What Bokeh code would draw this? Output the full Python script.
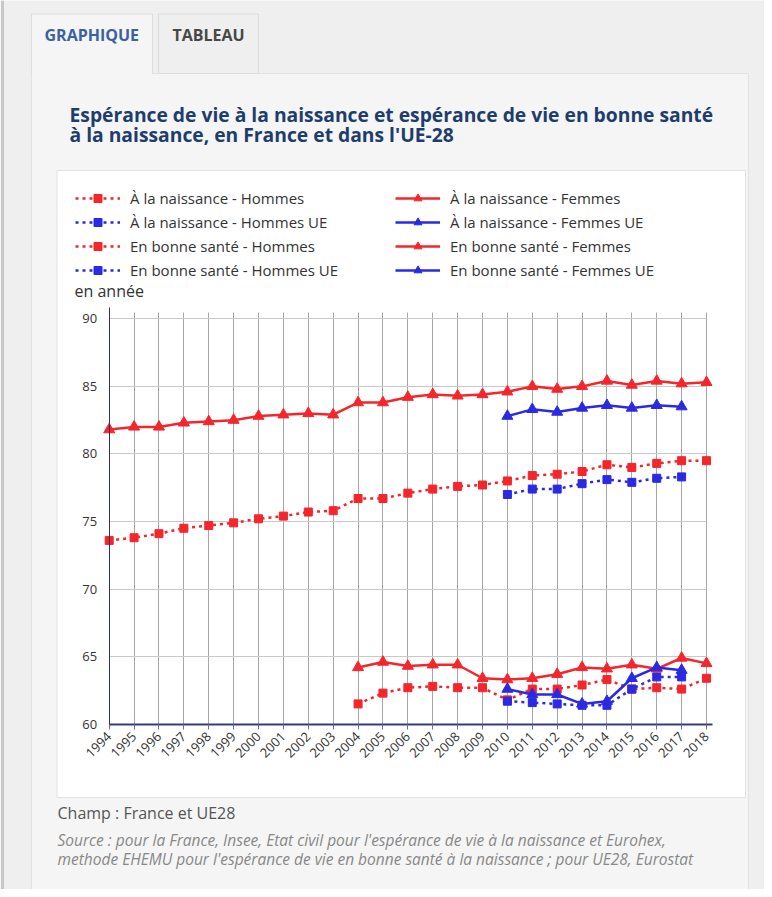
import numpy as np
from math import pi
from bokeh.plotting import figure
from bokeh.models import Range1d, LinearAxis, FixedTicker, Grid, Legend, LegendItem
from bokeh.core.properties import value
from bokeh.embed import file_html
from bokeh.resources import INLINE

# ---------------- data ----------------
years = list(range(1994, 2019))
y_ticks = [60, 65, 70, 75, 80, 85, 90]
N = None

naiss_hommes = [73.6, 73.8, 74.1, 74.5, 74.7, 74.9, 75.2, 75.4, 75.7, 75.8, 76.7, 76.7, 77.1,
                77.4, 77.6, 77.7, 78.0, 78.4, 78.5, 78.7, 79.2, 79.0, 79.3, 79.5, 79.5]
naiss_hommes_ue = [N] * 16 + [77.0, 77.4, 77.4, 77.8, 78.1, 77.9, 78.2, 78.3, N]
bs_hommes = [N] * 10 + [61.5, 62.3, 62.7, 62.8, 62.7, 62.7, 61.8, 62.6, 62.6, 62.9, 63.3,
                        62.6, 62.7, 62.6, 63.4]
bs_hommes_ue = [N] * 16 + [61.7, 61.6, 61.5, 61.4, 61.4, 62.6, 63.5, 63.5, N]
naiss_femmes = [81.8, 82.0, 82.0, 82.3, 82.4, 82.5, 82.8, 82.9, 83.0, 82.9, 83.8, 83.8, 84.2,
                84.4, 84.3, 84.4, 84.6, 85.0, 84.8, 85.0, 85.4, 85.1, 85.4, 85.2, 85.3]
naiss_femmes_ue = [N] * 16 + [82.8, 83.3, 83.1, 83.4, 83.6, 83.4, 83.6, 83.5, N]
bs_femmes = [N] * 10 + [64.2, 64.6, 64.3, 64.4, 64.4, 63.4, 63.3, 63.4, 63.7, 64.2, 64.1,
                        64.4, 64.1, 64.9, 64.5]
bs_femmes_ue = [N] * 16 + [62.6, 62.2, 62.2, 61.5, 61.7, 63.4, 64.2, 64.0, N]

labels_hommes = ["À la naissance - Hommes", "À la naissance - Hommes UE",
                 "En bonne santé - Hommes", "En bonne santé - Hommes UE"]
labels_femmes = ["À la naissance - Femmes", "À la naissance - Femmes UE",
                 "En bonne santé - Femmes", "En bonne santé - Femmes UE"]

# ---------------- styles / layout ----------------
RED = "#f4262c"
BLUE = "#2a2ae2"
FONT_NAME = "Open Sans"
FONT = value(FONT_NAME)
W, H = 764, 889
PX_L, PX_R = 108.7, 706.0      # pixel x of first / last year
PX_B, PX_T = 723.7, 318.3      # pixel y of lowest / highest tick

p = figure(width=W, height=H, x_range=Range1d(0, W), y_range=Range1d(H, 0),
           x_axis_type=None, y_axis_type=None, toolbar_location=None,
           output_backend="svg", min_border=0, outline_line_color=None,
           background_fill_color="#efefef", border_fill_color="#efefef")

sx = (PX_R - PX_L) / (years[-1] - years[0])
sy = (PX_B - PX_T) / (y_ticks[-1] - y_ticks[0])
p.extra_x_ranges = {"yr": Range1d(years[0] - PX_L / sx, years[-1] + (W - PX_R) / sx)}
p.extra_y_ranges = {"val": Range1d(y_ticks[0] - (H - PX_B) / sy, y_ticks[-1] + PX_T / sy)}

# ---------------- page decoration ----------------
p.multi_line(xs=[[2, 2]], ys=[[0, H]], line_color="#c8c8c8", line_width=3, level="image")
p.quad(left=[31], right=[748], top=[73], bottom=[920], fill_color="#f5f5f5",
       line_color="#e2e2e2", level="image")
p.quad(left=[158], right=[258], top=[13.5], bottom=[73], fill_color="#efefef",
       line_color="#dcdcdc", level="image")
p.quad(left=[31], right=[152], top=[13.5], bottom=[74], fill_color="#f5f5f5",
       line_color=None, level="image")
p.multi_line(xs=[[31, 31, 152, 152]], ys=[[74, 13.5, 13.5, 73]], line_color="#dcdcdc",
             level="image")
p.quad(left=[56.5], right=[745], top=[170], bottom=[797], fill_color="white",
       line_color="#e0e0e0", level="image")

p.text(x=[44], y=[45.5], text=["GRAPHIQUE"], text_font=FONT, text_font_size="16px",
       text_font_style="bold", text_color="#3c61a0")
p.text(x=[172], y=[45.5], text=["TABLEAU"], text_font=FONT, text_font_size="16px",
       text_font_style="bold", text_color="#474747")
p.text(x=[69, 69], y=[127, 147.5],
       text=["Espérance de vie à la naissance et espérance de vie en bonne santé",
             "à la naissance, en France et dans l'UE-28"],
       text_font=FONT, text_font_size="19.3px", text_font_style="bold", text_color="#1d3e6d")
p.text(x=[74], y=[301], text=["en année"], text_font=FONT, text_font_size="16px",
       text_color="#333333")
p.text(x=[57], y=[823], text=["Champ : France et UE28"], text_font=FONT,
       text_font_size="16px", text_color="#555555")
p.text(x=[57, 57], y=[850, 869],
       text=["Source : pour la France, Insee, Etat civil pour l'espérance de vie à la naissance et Eurohex,",
             "methode EHEMU pour l'espérance de vie en bonne santé à la naissance ; pour UE28, Eurostat"],
       text_font=FONT, text_font_size="15.5px", text_font_style="italic", text_color="#888888")

# ---------------- grids & axes ----------------
vgrid = Grid(dimension=0, ticker=FixedTicker(ticks=years), x_range_name="yr", y_range_name="val",
             cross_bounds=(y_ticks[0], y_ticks[-1] + 0.45), grid_line_color="#a6a6a6")
hgrid = Grid(dimension=1, ticker=FixedTicker(ticks=y_ticks), x_range_name="yr", y_range_name="val",
             cross_bounds=(years[0], years[-1]), grid_line_color="#c8c8c8")
p.add_layout(vgrid)
p.add_layout(hgrid)

yaxis = LinearAxis(x_range_name="yr", y_range_name="val", fixed_location=years[0],
                   ticker=FixedTicker(ticks=y_ticks), bounds=(y_ticks[0], y_ticks[-1] + 0.85),
                   axis_line_color="#2e2e6b", axis_line_width=1,
                   major_tick_line_color=None, minor_tick_line_color=None,
                   major_tick_out=0, major_tick_in=0, major_label_standoff=12,
                   major_label_text_font=FONT_NAME, major_label_text_font_size="13px",
                   major_label_text_color="#333333")
xaxis = LinearAxis(x_range_name="yr", y_range_name="val", fixed_location=y_ticks[0],
                   ticker=FixedTicker(ticks=years), bounds=(years[0], years[-1] + 0.25),
                   axis_line_color="#3a3a7a", axis_line_width=2,
                   major_tick_line_color="#6f6f8f", minor_tick_line_color=None,
                   major_tick_out=5, major_tick_in=0, major_label_standoff=5,
                   major_label_orientation=pi / 4,
                   major_label_text_font=FONT_NAME, major_label_text_font_size="13px",
                   major_label_text_color="#333333")
p.add_layout(xaxis, "below")
p.add_layout(yaxis, "left")

# ---------------- series ----------------
series = [
    (labels_hommes[0], naiss_hommes, RED, True),
    (labels_hommes[1], naiss_hommes_ue, BLUE, True),
    (labels_hommes[2], bs_hommes, RED, True),
    (labels_hommes[3], bs_hommes_ue, BLUE, True),
    (labels_femmes[0], naiss_femmes, RED, False),
    (labels_femmes[1], naiss_femmes_ue, BLUE, False),
    (labels_femmes[2], bs_femmes, RED, False),
    (labels_femmes[3], bs_femmes_ue, BLUE, False),
]
items = []
for label, vals, color, dotted in series:
    v = np.array(vals, dtype=float)
    lr = p.line(years, v, x_range_name="yr", y_range_name="val", line_color=color,
                line_width=2.5, line_dash="3 4" if dotted else "solid")
    if dotted:
        sr = p.scatter(years, v, x_range_name="yr", y_range_name="val", marker="square",
                       size=8, fill_color=color, line_color=color)
    else:
        sr = p.scatter(years, v, x_range_name="yr", y_range_name="val", marker="triangle",
                       size=11, fill_color=color, line_color=color)
    items.append(LegendItem(label=label, renderers=[lr, sr]))

for cols, x0 in ((items[:4], 75), (items[4:], 395)):
    lg = Legend(items=cols, location=(x0, H - 280), background_fill_alpha=0,
                border_line_color=None, padding=0, margin=0, spacing=4, glyph_width=45,
                glyph_height=20, label_height=20, label_standoff=10, label_text_font=FONT_NAME,
                label_text_font_size="15px", label_text_color="#333333")
    p.add_layout(lg)

open("out.html", "w").write(file_html(p, INLINE))
